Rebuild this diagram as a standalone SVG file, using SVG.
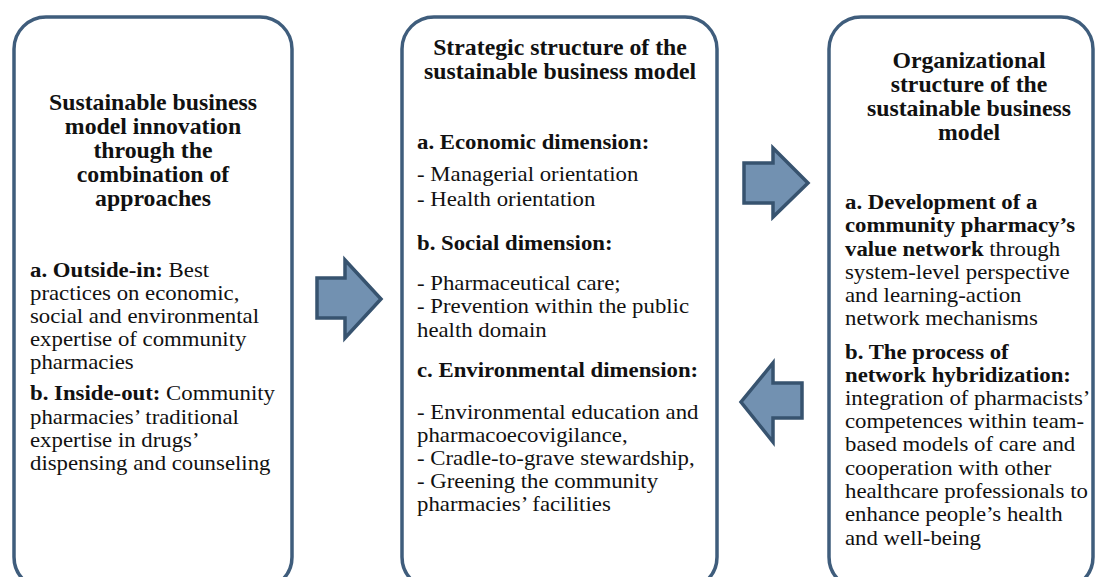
<svg xmlns="http://www.w3.org/2000/svg" width="1096" height="577" viewBox="0 0 1096 577">
<defs>
<style>
.box{fill:#ffffff;stroke:#3f5d7c;stroke-width:3.5}
.arr{fill:#7291b1;stroke:#37536f;stroke-width:3.5;stroke-linejoin:miter}
text{font-family:"Liberation Serif","Times New Roman",serif;font-size:21px;fill:#111}
.t{font-weight:bold;font-size:22.5px;text-anchor:middle}
.b{font-weight:bold}
</style>
</defs>
<rect width="1096" height="577" fill="#ffffff"/>
<g id="connectors">
<polygon class="arr" points="317,278 345,278 345,260 381,299 345,338 345,318 317,318"/>
<polygon class="arr" points="744,163 773,163 773,148 808,183 773,217 773,203 744,203"/>
<polygon class="arr" points="802,383 773,383 773,363 741,402 773,442 773,418 802,418"/>
</g>
<g id="node-left">
<rect class="box" x="14" y="17" width="278" height="572" rx="32" ry="32"/>
<g transform="translate(153 0) scale(1.057 1)">
<text class="t" x="0" y="110">Sustainable business</text>
<text class="t" x="0" y="134">model innovation</text>
<text class="t" x="0" y="158">through the</text>
<text class="t" x="0" y="182">combination of</text>
<text class="t" x="0" y="206">approaches</text>
</g>
<g transform="translate(30 0) scale(1.085 1)">
<text x="0" y="277"><tspan class="b">a. Outside-in:</tspan> Best</text>
<text x="0" y="300">practices on economic,</text>
<text x="0" y="323">social and environmental</text>
<text x="0" y="346">expertise of community</text>
<text x="0" y="369">pharmacies</text>
<text x="0" y="400"><tspan class="b">b. Inside-out:</tspan> Community</text>
<text x="0" y="424">pharmacies’ traditional</text>
<text x="0" y="447">expertise in drugs’</text>
<text x="0" y="470">dispensing and counseling</text>
</g>
</g>
<g id="node-middle">
<rect class="box" x="402" y="17" width="315" height="572" rx="32" ry="32"/>
<g transform="translate(560 0) scale(1.057 1)">
<text class="t" x="0" y="55">Strategic structure of the</text>
<text class="t" x="0" y="79">sustainable business model</text>
</g>
<g transform="translate(417 0) scale(1.085 1)">
<text class="b" x="0" y="149">a. Economic dimension:</text>
<text x="0" y="181">- Managerial orientation</text>
<text x="0" y="206">- Health orientation</text>
<text class="b" x="0" y="250">b. Social dimension:</text>
<text x="0" y="290">- Pharmaceutical care;</text>
<text x="0" y="313">- Prevention within the public</text>
<text x="0" y="337">health domain</text>
<text class="b" x="0" y="377">c. Environmental dimension:</text>
<text x="0" y="419">- Environmental education and</text>
<text x="0" y="442">pharmacoecovigilance,</text>
<text x="0" y="465">- Cradle-to-grave stewardship,</text>
<text x="0" y="488">- Greening the community</text>
<text x="0" y="511">pharmacies’ facilities</text>
</g>
</g>
<g id="node-right">
<rect class="box" x="829" y="17" width="264" height="572" rx="32" ry="32"/>
<g transform="translate(969 0) scale(1.057 1)">
<text class="t" x="0" y="68">Organizational</text>
<text class="t" x="0" y="92">structure of the</text>
<text class="t" x="0" y="116">sustainable business</text>
<text class="t" x="0" y="140">model</text>
</g>
<g transform="translate(845 0) scale(1.085 1)">
<text class="b" x="0" y="209">a. Development of a</text>
<text class="b" x="0" y="232">community pharmacy’s</text>
<text x="0" y="256"><tspan class="b">value network</tspan> through</text>
<text x="0" y="279">system-level perspective</text>
<text x="0" y="302">and learning-action</text>
<text x="0" y="325">network mechanisms</text>
<text class="b" x="0" y="359">b. The process of</text>
<text class="b" x="0" y="382">network hybridization:</text>
<text x="0" y="405">integration of pharmacists’</text>
<text x="0" y="428">competences within team-</text>
<text x="0" y="451">based models of care and</text>
<text x="0" y="475">cooperation with other</text>
<text x="0" y="498">healthcare professionals to</text>
<text x="0" y="521">enhance people’s health</text>
<text x="0" y="545">and well-being</text>
</g>
</g>
</svg>
